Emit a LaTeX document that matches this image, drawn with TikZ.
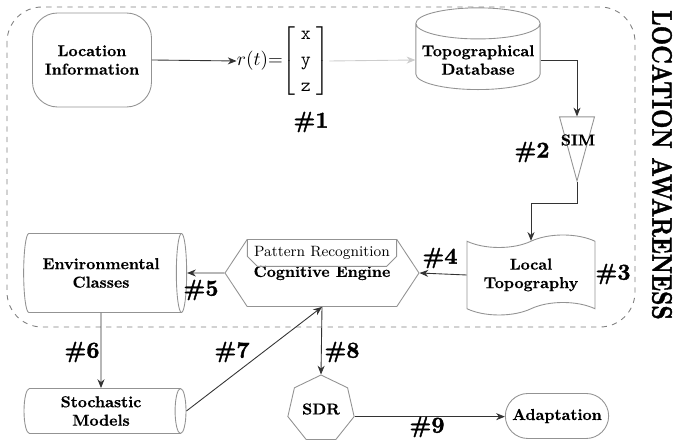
\documentclass[tikz,border=0pt]{standalone}
\usepackage{amsmath}
\usepackage{fontspec}
\usepackage{tikz}
\usetikzlibrary{arrows.meta,shapes.geometric,shapes.symbols,shapes.misc,calc}
\newfontfamily\heavyfont{lmroman10-bold.otf}[FakeBold=1.6]
\newfontfamily\blockfont{lmroman10-bold.otf}[FakeBold=0.6]

\begin{document}
\begin{tikzpicture}[
  x=0.2mm, y=-0.2mm,
  lbl/.style={font=\fontsize{9}{10.5}\selectfont\blockfont, align=center},
  block/.style={lbl, draw=gray!85, line width=0.5pt},
  tag/.style={font=\fontsize{13}{15}\selectfont\heavyfont},
  flow/.style={-{Stealth[length=5pt,width=4pt]}, draw=black!80, line width=0.5pt},
]

\useasboundingbox (0,0) rectangle (673,440);

% Location awareness frame
\draw[gray, dashed, line width=0.5pt, rounded corners=7mm] (7,7) rectangle (635,327);
\node[font=\fontsize{16}{18}\selectfont\heavyfont, rotate=-90, inner sep=0pt] (title) at (662,165)
  {\scalebox{0.8}[1]{LOCATION AWARENESS}};

% Blocks
\node[block, rounded corners=5mm, minimum width=23.8mm, minimum height=18.8mm]
  (loc) at (92,60) {Location\\Information};
\node[font=\fontsize{11}{13}\selectfont, inner sep=0pt] (vec) at (283,61)
  {$r(t)$=$\left[\begin{array}{@{\;}c@{\;}}\texttt{x}\\[2pt]\texttt{y}\\[2pt]\texttt{z}\end{array}\right]$};
\node[block, cylinder, shape border rotate=90, aspect=0.25,
      minimum width=24.4mm, minimum height=14.4mm] (db) at (478,60) {Topographical\\Database};
\node[block, isosceles triangle, isosceles triangle stretches, shape border rotate=-90,
      minimum width=7mm, minimum height=12.8mm, inner sep=0pt, anchor=apex] (sim) at (577,182) {};
\node[lbl] (simtxt) at (578,140) {SIM};
\node[block, tape, tape bend height=2.5mm, minimum width=25.6mm, minimum height=16mm]
  (topo) at (531,275) {Local\\Topography};
\node[block, signal, signal to=west and east, signal pointer angle=113,
      minimum width=38.8mm, minimum height=13.4mm] (cog) at (322,273) {Cognitive Engine};
\node[draw=gray!85, line width=0.5pt, chamfered rectangle,
      chamfered rectangle corners={south west,south east}, chamfered rectangle xsep=1mm,
      font=\fontsize{8.5}{10}\selectfont, minimum width=29.8mm, minimum height=4mm,
      inner sep=1pt, anchor=north] (pat) at (cog.north) {Pattern Recognition};
\node[block, cylinder, aspect=0.25, minimum width=15.8mm, minimum height=32.6mm]
  (env) at (101,273) {Environmental\\Classes};
\node[block, cylinder, aspect=0.33, minimum width=9mm, minimum height=32.4mm, inner sep=1pt]
  (stoch) at (101,411) {Stochastic\\Models};
\node[block, regular polygon, regular polygon sides=7, minimum size=13.6mm, inner sep=0pt]
  (sdr) at (321,409) {SDR};
\node[block, rounded rectangle, minimum width=23mm, minimum height=9mm]
  (adapt) at (557,416) {Adaptation};

% Connectors
\draw[flow] (loc.east) -- (vec.west);
\draw[flow, draw=gray!40] (vec.east) -- (db.west);
\draw[flow] (db.east) -| (sim.north);
\draw[flow] (sim.south) -- ++(0,21) -| (topo.north);
\draw[flow] (topo.west) -- (cog.east);
\draw[flow] (cog.west) -- (env.east);
\draw[flow] (env.south) -- (stoch.north);
\draw[flow] (stoch.east) -- (cog.south);
\draw[flow] (cog.south) -- (sdr.north);
\draw[flow] (sdr.corner 6) -- (sdr.corner 6 -| adapt.west);

% Step numbers
\node[tag] (n1) at (311,122) {\#1};
\node[tag] (n2) at (532,152) {\#2};
\node[tag] (n3) at (613,274) {\#3};
\node[tag] (n4) at (440,258) {\#4};
\node[tag] (n5) at (201,290) {\#5};
\node[tag] (n6) at (82,352)  {\#6};
\node[tag] (n7) at (232,352) {\#7};
\node[tag] (n8) at (342,352) {\#8};
\node[tag] (n9) at (427,427) {\#9};

\end{tikzpicture}
\end{document}
